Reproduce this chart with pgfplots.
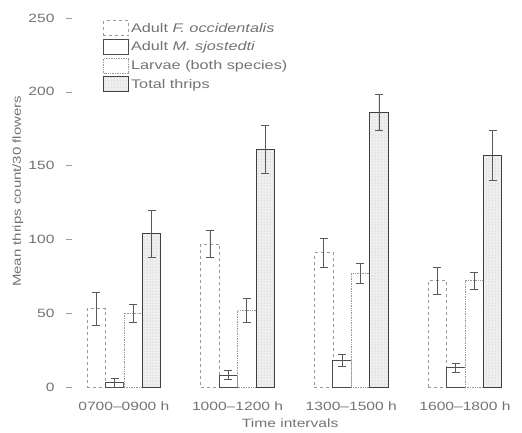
\documentclass[border=0pt]{standalone}
\usepackage{fontspec}
\setmainfont{Liberation Sans}[FakeStretch=1.3]
\usepackage{pgfplots}
\pgfplotsset{compat=1.18}
\usetikzlibrary{patterns}
\definecolor{txt}{gray}{0.45}
\begin{document}
\begin{tikzpicture}
\path[use as bounding box] (-75pt,-45pt) rectangle (447pt,387pt);
\begin{axis}[
 at={(0,0)}, anchor=south west,
 scale only axis, width=440pt, height=369pt,
 xmin=-0.43, xmax=3.44, ymin=0, ymax=250,
 ybar, bar width=0.162,
 axis x line=bottom, axis y line=left,
 axis line style={draw=none},
 xtick={0,1,2,3},
 xticklabels={0700--0900 h,1000--1200 h,1300--1500 h,1600--1800 h},
 x tick style={draw=none},
 ytick={0,50,100,150,200,250},
 y tick style={draw=txt!70, line width=0.5pt, xshift=-3pt},
 tick align=outside, major tick length=6pt,
 /pgf/number format/assume math mode=true,
 tick label style={font=\fontsize{12}{14}\selectfont, text=txt},
 yticklabel style={xshift=-11pt},
 xticklabel style={yshift=-5pt},
 xlabel={Time intervals},
 ylabel={Mean thrips count/30 flowers},
 label style={font=\fontsize{11.5}{13}\selectfont, text=txt},
 xlabel style={at={(axis description cs:0.489,-0.097)}, anchor=center, font=\fontsize{12}{14}\selectfont},
 ylabel style={at={(axis description cs:-0.13,0.53)}, anchor=center},
 legend style={draw=none, fill=none, at={(axis description cs:0.057,1.0)}, anchor=north west,
   font=\fontsize{12.5}{14}\selectfont, text=txt, row sep=3pt, cells={anchor=west}},
 legend image code/.code={\draw[#1] (0pt,-7pt) rectangle (25pt,8pt);},
 error bars/y dir=both, error bars/y explicit,
 error bars/error bar style={black!65, line width=0.7pt, solid},
 error bars/error mark options={rotate=90, mark size=4pt, black!65, line width=0.7pt, solid},
]
\addplot[draw=black!40, dashed, fill=white, line width=0.6pt, bar shift=-0.243]
 coordinates {(0,53) +- (0,11) (1,97) +- (0,9) (2,91) +- (0,10) (3,72) +- (0,9)};
\addplot[draw=black!70, fill=white, line width=0.8pt, bar shift=-0.081]
 coordinates {(0,3) +- (0,3) (1,8) +- (0,3) (2,18) +- (0,4) (3,13) +- (0,3)};
\addplot[draw=black!40, densely dotted, fill=white, line width=0.7pt, bar shift=0.081]
 coordinates {(0,50) +- (0,6) (1,52) +- (0,8) (2,77) +- (0,7) (3,72) +- (0,6)};
\addplot[draw=black!75, fill=gray!12, line width=0.8pt, bar shift=0.243,
   postaction={pattern=dots, pattern color=gray!60}]
 coordinates {(0,104) +- (0,16) (1,161) +- (0,16) (2,186) +- (0,12) (3,157) +- (0,17)};
\legend{Adult \textit{F. occidentalis},Adult \textit{M. sjostedti},Larvae (both species),Total thrips}
\end{axis}
\end{tikzpicture}
\end{document}
